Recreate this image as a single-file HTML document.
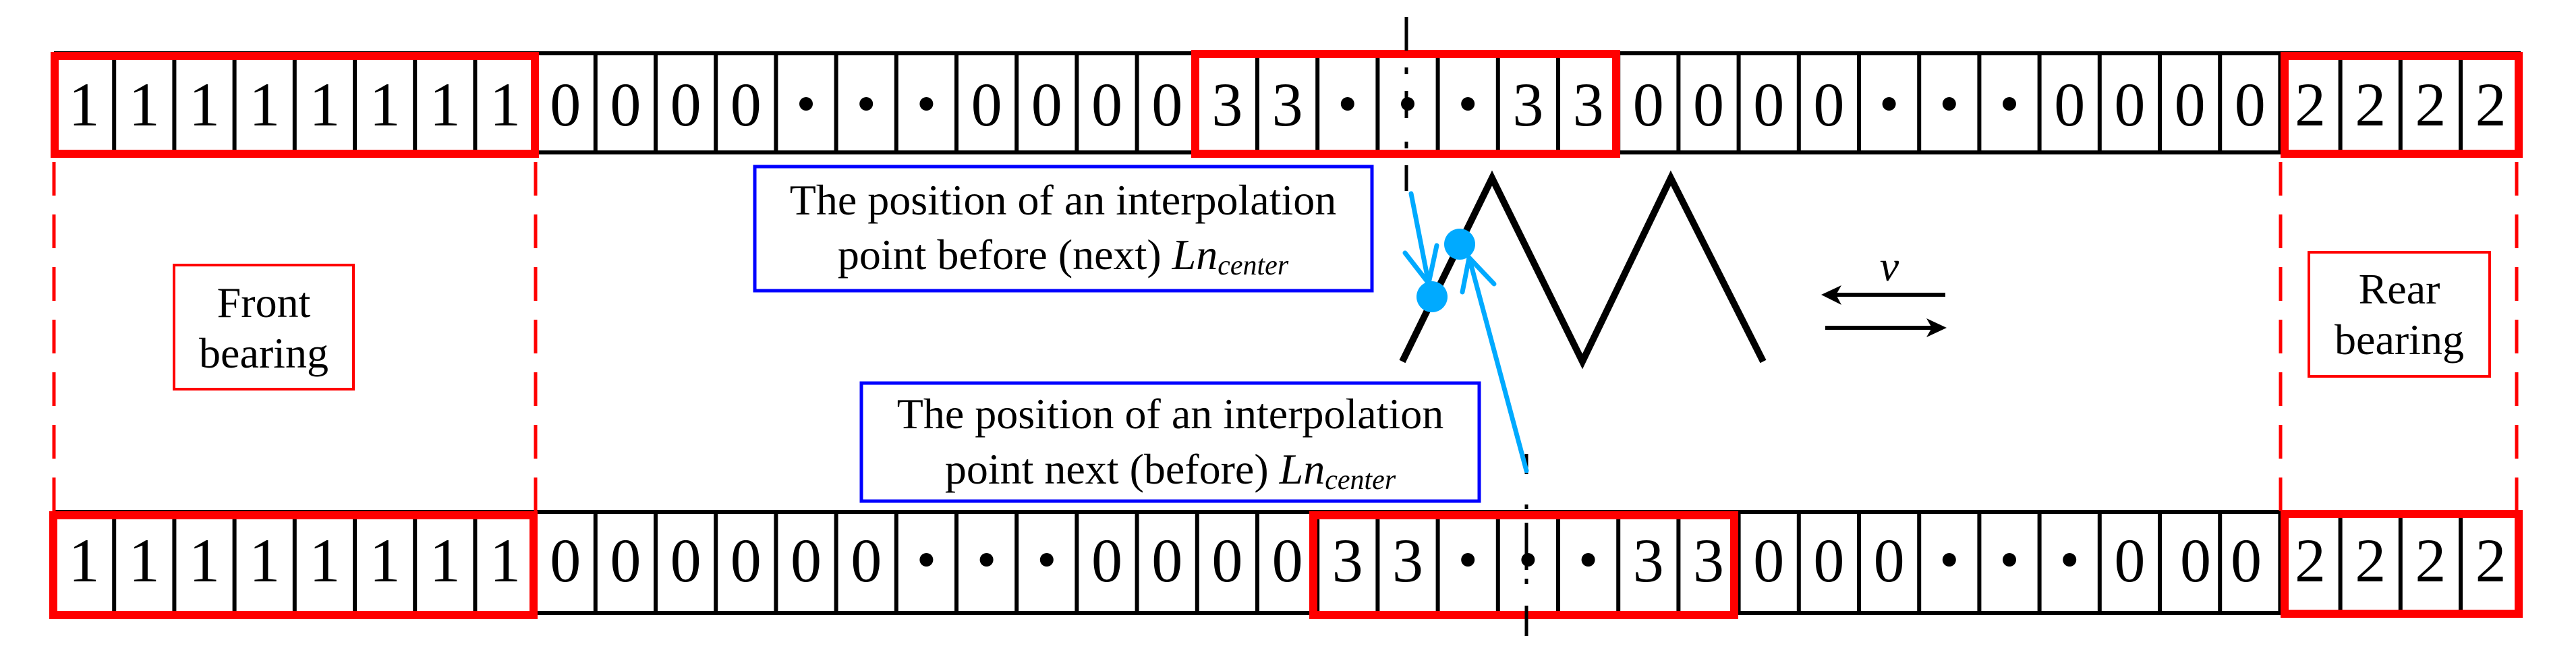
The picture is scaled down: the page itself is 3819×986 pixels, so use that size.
<!DOCTYPE html>
<html><head><meta charset="utf-8"><style>
html,body{margin:0;padding:0;background:#fff}
svg{display:block}
svg text{font-family:"Liberation Serif","Times New Roman","DejaVu Serif",serif}
</style></head><body>
<svg width="3819" height="986" viewBox="0 0 3819 986" xmlns="http://www.w3.org/2000/svg" font-family="Liberation Serif, Times New Roman, DejaVu Serif, serif">
<defs>
<pattern id="sep" x="80" y="0" width="89.2" height="986" patternUnits="userSpaceOnUse">
<rect x="-3" y="0" width="6" height="986" fill="#000"/>
<rect x="86.2" y="0" width="6" height="986" fill="#000"/>
</pattern>
</defs>
<rect x="80" y="79" width="3657" height="147" fill="url(#sep)"/>
<rect x="80" y="76" width="3657" height="6" fill="#000"/>
<rect x="80" y="223" width="3657" height="6" fill="#000"/>
<rect x="80" y="762" width="3657" height="147" fill="url(#sep)"/>
<rect x="80" y="756" width="3657" height="6" fill="#000"/>
<rect x="80" y="906" width="3657" height="6" fill="#000"/>

<g font-size="92" text-anchor="middle" fill="#000" font-family="Liberation Serif, serif">
<text x="124.6" y="186">1</text><text x="213.8" y="186">1</text><text x="303" y="186">1</text><text x="392.2" y="186">1</text><text x="481.4" y="186">1</text><text x="570.6" y="186">1</text><text x="659.8" y="186">1</text><text x="749" y="186">1</text>
<text x="838.2" y="186">0</text><text x="927.4" y="186">0</text><text x="1016.6" y="186">0</text><text x="1105.8" y="186">0</text>
<text x="1462.6" y="186">0</text><text x="1551.8" y="186">0</text><text x="1641" y="186">0</text><text x="1730.2" y="186">0</text>
<text x="1819.4" y="186">3</text><text x="1908.6" y="186">3</text>
<text x="2265.4" y="186">3</text><text x="2354.6" y="186">3</text>
<text x="2443.8" y="186">0</text><text x="2533" y="186">0</text><text x="2622.2" y="186">0</text><text x="2711.4" y="186">0</text>
<text x="3068.2" y="186">0</text><text x="3157.4" y="186">0</text><text x="3246.6" y="186">0</text><text x="3335.8" y="186">0</text>
<text x="3425" y="186">2</text><text x="3514.2" y="186">2</text><text x="3603.4" y="186">2</text><text x="3692.6" y="186">2</text>
</g>
<g fill="#000">
<circle cx="1195" cy="154" r="10"/><circle cx="1284.2" cy="154" r="10"/><circle cx="1373.4" cy="154" r="10"/>
<circle cx="1997.8" cy="154" r="10"/><circle cx="2087" cy="154" r="10"/><circle cx="2176.2" cy="154" r="10"/>
<circle cx="2800.6" cy="154" r="10"/><circle cx="2889.8" cy="154" r="10"/><circle cx="2979" cy="154" r="10"/>
</g>

<g font-size="92" text-anchor="middle" fill="#000" font-family="Liberation Serif, serif">
<text x="124.6" y="862">1</text><text x="213.8" y="862">1</text><text x="303" y="862">1</text><text x="392.2" y="862">1</text><text x="481.4" y="862">1</text><text x="570.6" y="862">1</text><text x="659.8" y="862">1</text><text x="749" y="862">1</text>
<text x="838.2" y="862">0</text><text x="927.4" y="862">0</text><text x="1016.6" y="862">0</text><text x="1105.8" y="862">0</text><text x="1195" y="862">0</text><text x="1284.2" y="862">0</text>
<text x="1641" y="862">0</text><text x="1730.2" y="862">0</text><text x="1819.4" y="862">0</text><text x="1908.6" y="862">0</text>
<text x="1997.8" y="862">3</text><text x="2087" y="862">3</text>
<text x="2443.8" y="862">3</text><text x="2533" y="862">3</text>
<text x="2622.2" y="862">0</text><text x="2711.4" y="862">0</text><text x="2800.6" y="862">0</text>
<text x="3157.4" y="862">0</text><text x="3255" y="862">0</text><text x="3330" y="862">0</text>
<text x="3425" y="862">2</text><text x="3514.2" y="862">2</text><text x="3603.4" y="862">2</text><text x="3692.6" y="862">2</text>
</g>
<g fill="#000">
<circle cx="1373.4" cy="830" r="10"/><circle cx="1462.6" cy="830" r="10"/><circle cx="1551.8" cy="830" r="10"/>
<circle cx="2176.2" cy="830" r="10"/><circle cx="2265.4" cy="830" r="10"/><circle cx="2354.6" cy="830" r="10"/>
<circle cx="2889.8" cy="830" r="10"/><circle cx="2979" cy="830" r="10"/><circle cx="3068.2" cy="830" r="10"/>
</g>

<g fill="none" stroke="#ff0000" stroke-width="12">
<rect x="81" y="83" width="712" height="145"/>
<rect x="1772" y="80" width="624" height="148"/>
<rect x="3387" y="83" width="347" height="145"/>
<rect x="79" y="764" width="712" height="148"/>
<rect x="1947" y="764" width="624" height="148"/>
<rect x="3387" y="762" width="347" height="148"/>
</g>
<g stroke="#ff0000" stroke-width="5" stroke-dasharray="50,28">
<line x1="80" y1="240" x2="80" y2="758"/>
<line x1="794" y1="240" x2="794" y2="758"/>
<line x1="3381" y1="240" x2="3381" y2="758"/>
<line x1="3731" y1="240" x2="3731" y2="758"/>
</g>
<g font-family="Liberation Serif, serif" font-size="64" text-anchor="middle">
<rect x="258" y="393" width="266" height="184" fill="none" stroke="#ff0000" stroke-width="4"/>
<text x="391" y="470">Front</text>
<text x="391" y="545">bearing</text>
<rect x="3423" y="374" width="268" height="184" fill="none" stroke="#ff0000" stroke-width="4"/>
<text x="3557" y="450">Rear</text>
<text x="3557" y="525">bearing</text>
</g>

<g stroke="#000" stroke-width="5">
<line x1="2085" y1="25" x2="2085" y2="75"/>
<line x1="2085" y1="100" x2="2085" y2="110"/>
<line x1="2085" y1="135" x2="2085" y2="175"/>
<line x1="2085" y1="210" x2="2085" y2="220"/>
<line x1="2085" y1="245" x2="2085" y2="283"/>
<line x1="2263" y1="673" x2="2263" y2="703"/>
<line x1="2263" y1="748" x2="2263" y2="755"/>
<line x1="2263" y1="775" x2="2263" y2="845"/>
<line x1="2263" y1="858" x2="2263" y2="866"/>
<line x1="2263" y1="898" x2="2263" y2="943"/>
</g>

<g font-family="Liberation Serif, serif" font-size="64" text-anchor="middle">
<rect x="1119" y="247" width="915" height="184" fill="none" stroke="#0000ff" stroke-width="5"/>
<text x="1576" y="318">The position of an interpolation</text>
<text x="1576" y="399">point before (next) <tspan font-style="italic">Ln</tspan><tspan font-style="italic" font-size="42" dy="8">center</tspan></text>
<rect x="1277" y="568" width="916" height="175" fill="none" stroke="#0000ff" stroke-width="5"/>
<text x="1735" y="635">The position of an interpolation</text>
<text x="1735" y="717">point next (before) <tspan font-style="italic">Ln</tspan><tspan font-style="italic" font-size="42" dy="8">center</tspan></text>
</g>

<polyline points="2079,536 2212,264 2346,536 2477,264 2614,536" fill="none" stroke="#000" stroke-width="10"/>

<g stroke="#00aaff" stroke-width="7" stroke-linecap="round" fill="none">
<line x1="2092" y1="287" x2="2118" y2="420"/>
<polyline points="2083,375 2118,420 2130,364"/>
<line x1="2263" y1="698" x2="2178" y2="382"/>
<polyline points="2168,433 2178,382 2215,421"/>
</g>
<circle cx="2123" cy="440" r="23" fill="#00aaff"/>
<circle cx="2164" cy="362" r="23" fill="#00aaff"/>

<g stroke="#000" stroke-width="6">
<line x1="2884" y1="437" x2="2715" y2="437"/>
<line x1="2706" y1="486" x2="2870" y2="486"/>
</g>
<polygon points="2700,437 2730,423 2722,437 2730,452" fill="#000"/>
<polygon points="2886,486 2856,472 2864,486 2856,500" fill="#000"/>
<text x="2801" y="416" font-size="64" font-style="italic" text-anchor="middle" font-family="Liberation Serif, serif">v</text>
</svg>
</body></html>
